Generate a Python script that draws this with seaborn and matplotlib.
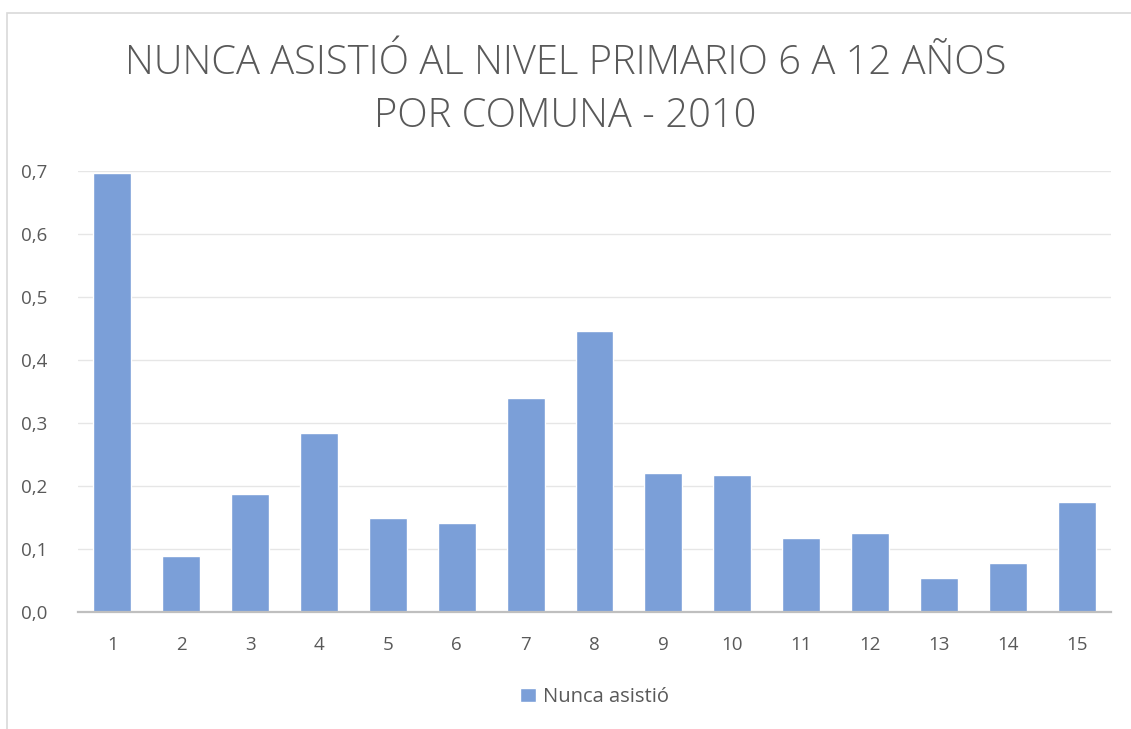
import matplotlib
matplotlib.use("Agg")
import matplotlib.pyplot as plt
import seaborn as sns
import pandas as pd
from matplotlib.patches import Rectangle

# data
comunas = [str(i) for i in range(1, 16)]
nunca_asistio = [0.697, 0.089, 0.187, 0.284, 0.149, 0.141, 0.340, 0.446,
                 0.221, 0.217, 0.117, 0.125, 0.054, 0.078, 0.175]
y_ticks = [0.0, 0.1, 0.2, 0.3, 0.4, 0.5, 0.6, 0.7]
y_labels = ["0,0", "0,1", "0,2", "0,3", "0,4", "0,5", "0,6", "0,7"]

df = pd.DataFrame({"comuna": comunas, "valor": nunca_asistio})

sns.set_style("white")
plt.rcParams['font.family'] = ['Open Sans', 'DejaVu Sans']

bar_color = "#7b9fd8"
text_color = "#595959"

fig = plt.figure(figsize=(11.31, 7.29), dpi=100)
W, H = 1131, 729
ax = fig.add_axes([78 / W, 1 - 612 / H, (1111 - 78) / W, (612 - 171) / H])

sns.barplot(data=df, x="comuna", y="valor", color=bar_color, width=0.55,
            saturation=1, ax=ax, label="Nunca asistió", zorder=3)

ax.set_ylim(0, 0.7)
ax.set_yticks(y_ticks)
ax.set_yticklabels(y_labels)
ax.set_xlim(-0.5, 14.5)
ax.set_xlabel("")
ax.set_ylabel("")
ax.tick_params(axis="both", length=0, labelsize=13.5, colors=text_color)
ax.tick_params(axis="x", pad=17)
ax.tick_params(axis="y", pad=22)
ax.grid(axis="y", color="#e6e6e6", linewidth=1, zorder=0)
for s in ["top", "right", "left"]:
    ax.spines[s].set_visible(False)
ax.spines["bottom"].set_color("#bfbfbf")
ax.spines["bottom"].set_linewidth(1.6)
ax.spines["bottom"].set_zorder(4)

fig.text(0.5, 1 - 90 / H, "NUNCA ASISTIÓ AL NIVEL PRIMARIO 6 A 12 AÑOS\nPOR COMUNA - 2010",
         ha="center", va="center", fontsize=28.7, color=text_color,
         fontweight="light", linespacing=1.4)

leg = ax.legend(loc="center", bbox_to_anchor=(0.5, -(697 - 612) / (612 - 171)),
                frameon=False, fontsize=14.5, handlelength=0.75, handleheight=0.75,
                handletextpad=0.35)
for t in leg.get_texts():
    t.set_color(text_color)

# outer chart border (cut off at right and bottom like the screenshot)
fig.patches.append(Rectangle((7 / W, -0.1), 1.2, 1 - 13 / H + 0.1,
                             transform=fig.transFigure, fill=False,
                             edgecolor="#d9d9d9", linewidth=1.2))

fig.savefig("out.png", dpi=100, facecolor="white")
